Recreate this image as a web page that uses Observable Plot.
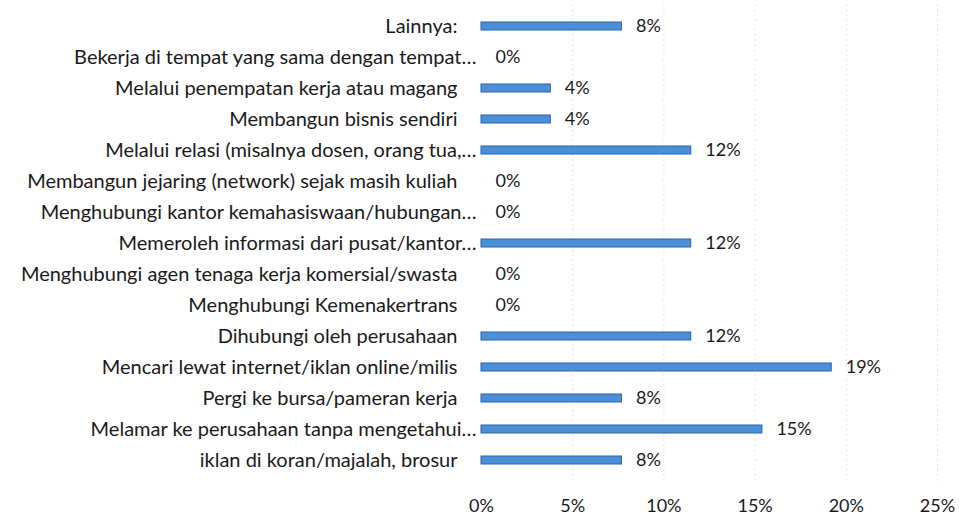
<!DOCTYPE html>
<html>
<head>
<meta charset="utf-8">
<script src="https://cdn.jsdelivr.net/npm/d3@7"></script>
<script src="https://cdn.jsdelivr.net/npm/@observablehq/plot@0.6"></script>
<style>
  html, body { margin: 0; padding: 0; background: #fff; }
  #chart svg { display: block; }
</style>
</head>
<body>
<div id="chart"></div>
<script>
const categories = [
  "Lainnya:",
  "Bekerja di tempat yang sama dengan tempat…",
  "Melalui penempatan kerja atau magang",
  "Membangun bisnis sendiri",
  "Melalui relasi (misalnya dosen, orang tua,…",
  "Membangun jejaring (network) sejak masih kuliah",
  "Menghubungi kantor kemahasiswaan/hubungan…",
  "Memeroleh informasi dari pusat/kantor…",
  "Menghubungi agen tenaga kerja komersial/swasta",
  "Menghubungi Kemenakertrans",
  "Dihubungi oleh perusahaan",
  "Mencari lewat internet/iklan online/milis",
  "Pergi ke bursa/pameran kerja",
  "Melamar ke perusahaan tanpa mengetahui…",
  "iklan di koran/majalah, brosur"
];
const values = [0.077, 0, 0.038, 0.038, 0.115, 0, 0, 0.115, 0, 0, 0.115, 0.192, 0.077, 0.154, 0.077];
const xTicks = [0, 0.05, 0.10, 0.15, 0.20, 0.25];

const data = categories.map((c, i) => ({category: c, value: values[i], ell: c.endsWith("…")}));
const font = "Lato, 'Open Sans', sans-serif";

const chart = Plot.plot({
  width: 959,
  height: 523,
  marginLeft: 481,
  marginRight: 22,
  marginTop: 4,
  marginBottom: 42,
  style: {fontFamily: font, fontSize: "18px", color: "#1a1a1a", background: "#fff"},
  x: {domain: [0, 0.25], ticks: xTicks, tickFormat: d3.format(".0%"), label: null},
  y: {domain: categories, paddingInner: 0.75, paddingOuter: 0.375, label: null},
  marks: [
    Plot.ruleX(xTicks.slice(1), {stroke: "#e4e4e4", strokeWidth: 1, strokeDasharray: "2,3"}),
    Plot.barX(data, {x: "value", y: "category", fill: "#4a8fd8", stroke: "#2d63a8", strokeWidth: 1}),
    Plot.text(data, {x: "value", y: "category", text: d => d3.format(".0%")(d.value), textAnchor: "start", dx: 14, fontSize: 18, fill: "#1a1a1a"}),
    Plot.text(data.filter(d => d.ell), {x: 0, y: "category", text: "category", textAnchor: "end", dx: -5, fontSize: 20, fill: "#1a1a1a"}),
    Plot.text(data.filter(d => !d.ell), {x: 0, y: "category", text: "category", textAnchor: "end", dx: -24, fontSize: 20, fill: "#1a1a1a"}),
    Plot.axisX({ticks: xTicks, tickFormat: d3.format(".0%"), tickSize: 0, tickPadding: 18, fontSize: 18, fill: "#1a1a1a", label: null}),
    Plot.axisY({ticks: [], label: null, tickSize: 0})
  ]
});
document.getElementById("chart").appendChild(chart);
</script>
</body>
</html>
